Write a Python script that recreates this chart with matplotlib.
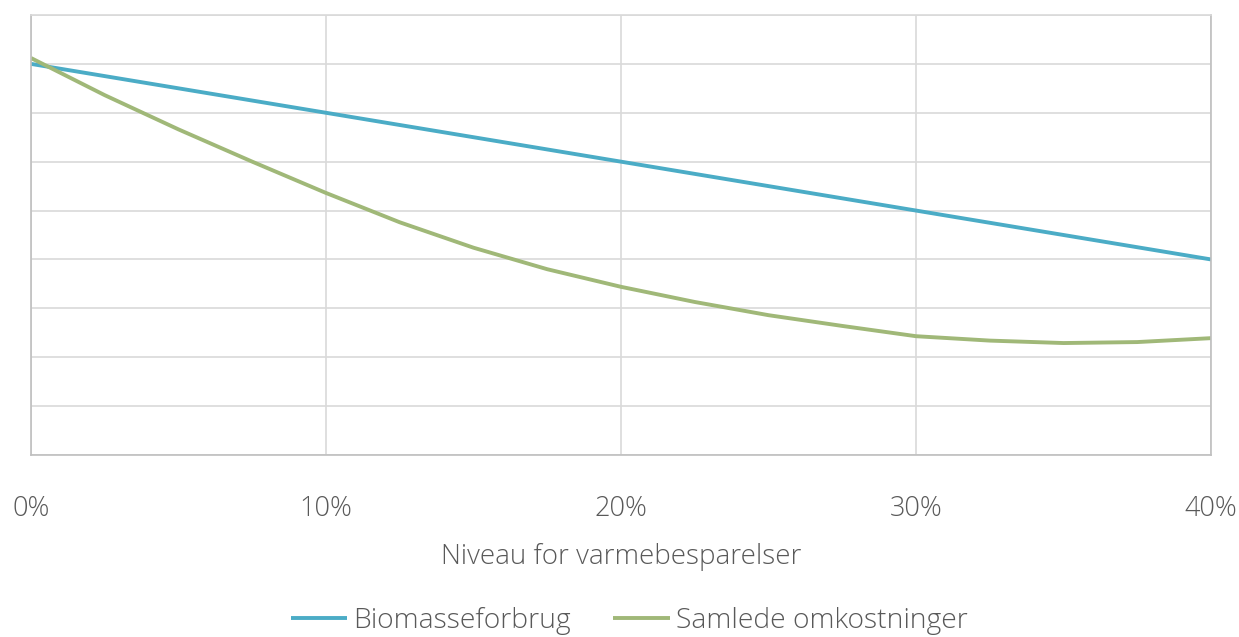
import matplotlib
matplotlib.use("Agg")
import matplotlib.pyplot as plt

plt.rcParams['font.family'] = ['Open Sans', 'DejaVu Sans']
plt.rcParams['font.weight'] = 'light'
plt.rcParams['axes.labelweight'] = 'light'

x_blue = [0, 10, 20, 30, 40]
biomasse = [8.0, 7.0, 6.0, 5.0, 4.0]

x_green = [0, 2.5, 5, 7.5, 10, 12.5, 15, 17.5, 20, 22.5, 25, 27.5, 30, 32.5, 35, 37.5, 40]
omkostninger = [8.12, 7.36, 6.66, 6.0, 5.36, 4.76, 4.24, 3.8, 3.44, 3.13, 2.86, 2.64, 2.43,
                2.34, 2.29, 2.31, 2.39]

x_ticks = [0, 10, 20, 30, 40]
x_labels = ["0%", "10%", "20%", "30%", "40%"]

fig = plt.figure(figsize=(12.39, 6.37), dpi=100)
ax = fig.add_axes([31 / 1239, 1 - 455 / 637, 1180 / 1239, 440 / 637])

ax.plot(x_blue, biomasse, color='#4bacc6', lw=2.8, label="Biomasseforbrug", solid_capstyle='butt')
ax.plot(x_green, omkostninger, color='#a0b878', lw=2.8, label="Samlede omkostninger",
        solid_capstyle='butt', solid_joinstyle='round')

ax.set_xlim(0, 40)
ax.set_ylim(0, 9)
ax.set_xticks(x_ticks)
ax.set_xticklabels(x_labels)
ax.set_yticks(range(0, 10))
ax.set_yticklabels([])
ax.tick_params(axis='both', length=0)
ax.tick_params(axis='x', labelsize=19.5, labelcolor='#595959', pad=29)
ax.grid(True, color='#d9d9d9', lw=1.2)
ax.set_axisbelow(True)
ax.spines['top'].set_color('#d9d9d9')
for side in ['left', 'bottom', 'right']:
    ax.spines[side].set_color('#bfbfbf')
for s in ax.spines.values():
    s.set_linewidth(1.2)

ax.set_xlabel("Niveau for varmebesparelser", fontsize=20, color='#595959', labelpad=14)

fig.legend(loc='center', bbox_to_anchor=(0.508, 1 - 621 / 637), ncol=2, frameon=False,
           fontsize=20.3, labelcolor='#595959', handlelength=2.0, handletextpad=0.22,
           columnspacing=1.5)

fig.savefig("out.png", dpi=100)
